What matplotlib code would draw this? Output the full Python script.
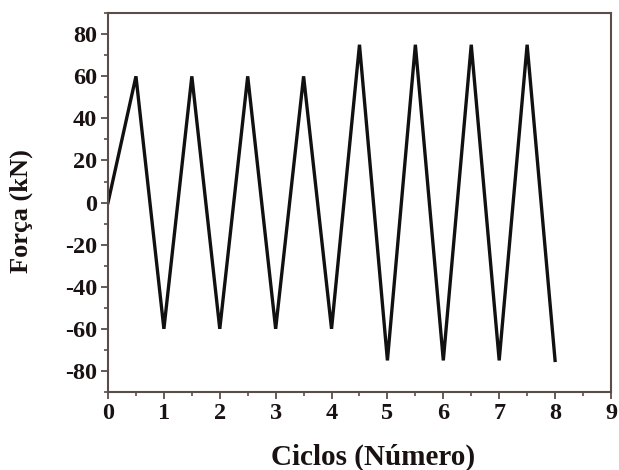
import matplotlib
matplotlib.use("Agg")
import matplotlib.pyplot as plt
from matplotlib.ticker import MultipleLocator

cycles = [0, 0.5, 1, 1.5, 2, 2.5, 3, 3.5, 4, 4.5, 5, 5.5, 6, 6.5, 7, 7.5, 8]
force = [0, 60, -60, 60, -60, 60, -60, 60, -60, 75, -75, 75, -75, 75, -75, 75, -75]
xticks = list(range(0, 10))
yticks = [-80, -60, -40, -20, 0, 20, 40, 60, 80]

plt.rcParams['font.family'] = ['Liberation Serif', 'DejaVu Serif']
plt.rcParams['font.weight'] = 'bold'
plt.rcParams['axes.unicode_minus'] = False

fig = plt.figure(figsize=(6.19, 4.70), dpi=100)
ax = fig.add_axes([0.1745, 0.166, 0.8125, 0.806])
ax.plot(cycles, force, color='#111111', lw=2.4, solid_joinstyle='miter')
ax.set_xlim(0, 9)
ax.set_ylim(-90, 90)
ax.set_xticks(xticks)
ax.set_yticks(yticks)
ax.xaxis.set_minor_locator(MultipleLocator(0.5))
ax.yaxis.set_minor_locator(MultipleLocator(10))
spc = '#5a4d48'
for s in ax.spines.values():
    s.set_color(spc)
    s.set_linewidth(1.5)
ax.tick_params(which='both', direction='out', color=spc, top=False, right=False)
ax.tick_params(which='major', length=5, width=1.3, labelsize=17.5, pad=3)
ax.tick_params(which='minor', length=3, width=1.2)
for lab in ax.get_xticklabels() + ax.get_yticklabels():
    lab.set_fontweight('bold')
    lab.set_color('#1a1212')
fig.text(0.603, 0.027, 'Ciclos (Número)', fontsize=21, fontweight='bold',
         color='#1a1212', ha='center', va='center')
fig.text(0.035, 0.55, 'Força (kN)', fontsize=19, fontweight='bold',
         color='#1a1212', ha='center', va='center', rotation=90)
fig.savefig('out.png', dpi=100)
